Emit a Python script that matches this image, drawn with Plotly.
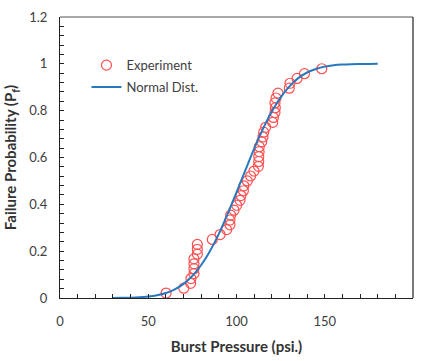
import plotly.graph_objects as go

# Experimental data (burst pressure psi, failure probability)
exp_x = [60.1, 70.1, 74.0, 74.2, 75.9, 75.9, 75.9, 75.9, 77.8, 77.8, 77.8,
         86.3, 90.7, 94.4, 96.3, 96.3, 96.7, 98.6, 100.1, 102.0, 102.5, 103.9,
         104.2, 106.1, 108.0, 109.9, 112.4, 112.6, 112.6, 112.8, 112.9, 114.3,
         115.0, 115.4, 116.5, 120.5, 120.9, 121.8, 122.0, 121.8, 122.4, 123.5,
         129.9, 130.3, 134.3, 138.5, 148.3]
exp_p = [0.021, 0.042, 0.0625, 0.083, 0.104, 0.125, 0.146, 0.167, 0.1875, 0.208,
         0.229, 0.25, 0.271, 0.292, 0.3125, 0.333, 0.354, 0.375, 0.396, 0.417,
         0.4375, 0.458, 0.479, 0.5, 0.521, 0.542, 0.5625, 0.583, 0.604, 0.625,
         0.646, 0.667, 0.6875, 0.708, 0.729, 0.75, 0.771, 0.792, 0.8125, 0.833,
         0.854, 0.875, 0.896, 0.917, 0.9375, 0.958, 0.979]

# Normal distribution curve
fit_x = [30, 35, 40, 45, 50, 55, 60, 65, 70, 75, 80, 85, 90, 95, 100, 105, 110,
         115, 120, 125, 130, 135, 140, 145, 150, 155, 160, 165, 170, 175, 180]
fit_p = [0.0003, 0.0006, 0.0014, 0.0030, 0.0061, 0.0117, 0.0212, 0.0367, 0.0603,
         0.0944, 0.141, 0.201, 0.274, 0.359, 0.451, 0.545, 0.638, 0.722, 0.796,
         0.857, 0.904, 0.939, 0.963, 0.978, 0.988, 0.9937, 0.9969, 0.9985,
         0.9993, 0.9997, 0.9999]

x_ticks = [0, 50, 100, 150, 200]
y_ticks = [0, 0.2, 0.4, 0.6, 0.8, 1, 1.2]
y_tick_text = ["0", "0.2", "0.4", "0.6", "0.8", "1", "1.2"]

FONT = "Lato, 'Open Sans', sans-serif"
TXT = "#404040"

fig = go.Figure()
fig.add_trace(go.Scatter(
    x=exp_x, y=exp_p, mode="markers", name="Experiment", legendgroup="a",
    marker=dict(symbol="circle-open", size=10, color="rgb(255,80,80)",
                line=dict(width=1.2, color="rgb(255,80,80)")),
))
fig.add_trace(go.Scatter(
    x=fit_x, y=fit_p, mode="lines", name="Normal Dist.", legendgroup="b",
    line=dict(color="#2878BD", width=2, shape="spline"),
))

fig.update_layout(
    width=422, height=361,
    margin=dict(l=60, r=9, t=12, b=61),
    paper_bgcolor="white", plot_bgcolor="white",
    font=dict(family=FONT, size=13, color=TXT),
    showlegend=True,
    legend=dict(x=0.075, y=0.882, xanchor="left", yanchor="top",
                bgcolor="rgba(0,0,0,0)", font=dict(size=13, color=TXT),
                itemwidth=30, tracegroupgap=2, traceorder="grouped"),
    xaxis=dict(range=[0, 200], tickvals=x_ticks, showgrid=False, zeroline=False,
               showline=True, linecolor="#222", linewidth=1.2,
               ticks="inside", ticklen=4, tickcolor="#222",
               minor=dict(dtick=10, ticks="inside", ticklen=4, tickcolor="#222"),
               ticklabelstandoff=11,
               tickfont=dict(size=13, color=TXT),
               title=dict(text="<b>Burst Pressure (psi.)</b>", standoff=13,
                          font=dict(size=15, color="#333"))),
    yaxis=dict(range=[0, 1.2], tickvals=y_ticks, ticktext=y_tick_text,
               showgrid=False, zeroline=False,
               showline=True, linecolor="#222", linewidth=1.2,
               ticks="inside", ticklen=4, tickcolor="#222",
               minor=dict(dtick=0.04, ticks="inside", ticklen=4, tickcolor="#222"),
               ticklabelstandoff=9,
               tickfont=dict(size=13, color=TXT),
               title=dict(text="<b>Failure Probability (P<sub>f</sub>)</b>", standoff=8,
                          font=dict(size=15, color="#333"))),
    shapes=[
        dict(type="line", xref="paper", yref="paper", x0=0, x1=1, y0=1, y1=1,
             line=dict(color="#8c8c8c", width=1.5)),
        dict(type="line", xref="paper", yref="paper", x0=1, x1=1, y0=0, y1=1,
             line=dict(color="#222", width=1.2)),
    ],
)

fig.write_html("out.html")
